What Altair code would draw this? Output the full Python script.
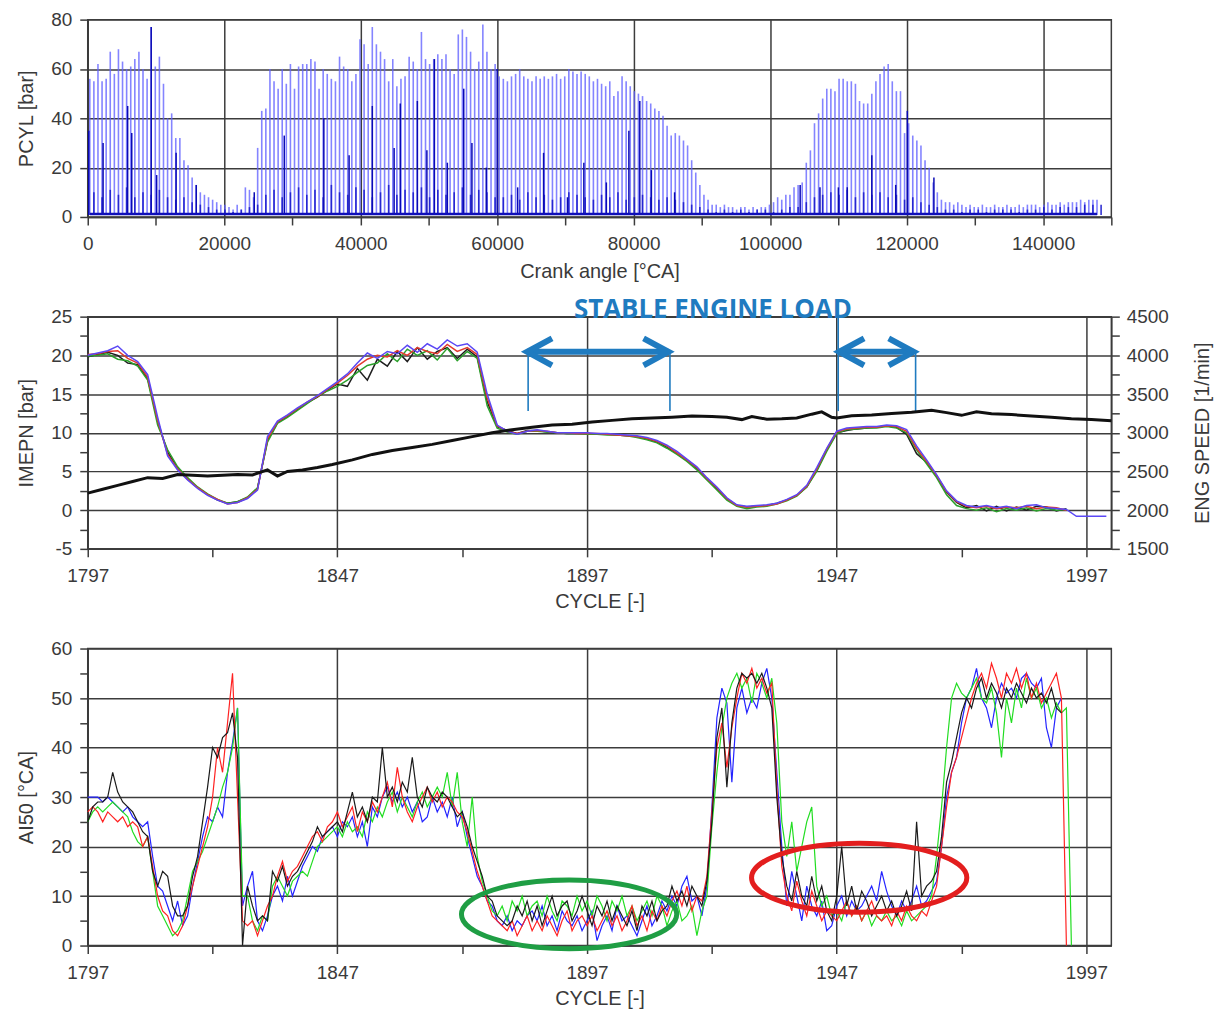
import altair as alt
import pandas as pd

FONT = "Liberation Sans"
LBL = "#3a3a3a"
GRID = "#3c3c3c"

# ---------------- top panel: cylinder pressure spikes ----------------
light_step = 600
light_peak = [
    56, 55, 62, 55, 56, 67, 58, 68, 63, 60,
    61, 64, 67, 60, 56, 77, 61, 65, 54, 40,
    42, 32, 32, 23, 21, 16, 13, 10, 9, 8,
    7, 6, 5, 5, 4, 3, 5, 3, 12, 11,
    8, 28, 43, 44, 60, 55, 52, 60, 54, 62,
    52, 61, 62, 62, 64, 63, 52, 60, 58, 56,
    55, 65, 61, 60, 55, 58, 72, 70, 62, 77,
    70, 67, 64, 55, 64, 53, 56, 57, 65, 63,
    60, 75, 64, 62, 64, 66, 64, 66, 60, 58,
    74, 76, 73, 67, 60, 63, 78, 67, 60, 62,
    57, 56, 55, 57, 58, 60, 57, 56, 55, 57,
    56, 57, 56, 57, 58, 56, 57, 60, 59, 58,
    59, 58, 57, 55, 56, 54, 53, 55, 49, 51,
    57, 55, 53, 51, 50, 49, 47, 46, 44, 43,
    41, 37, 33, 34, 33, 31, 29, 23, 18, 13,
    9, 7, 5, 5, 4, 5, 4, 4, 3, 4,
    4, 3, 4, 3, 4, 4, 5, 6, 8, 7,
    9, 9, 12, 13, 14, 22, 27, 38, 42, 48,
    52, 52, 51, 56, 56, 55, 55, 54, 47, 46,
    46, 50, 55, 58, 61, 62, 55, 51, 51, 34,
    38, 33, 31, 29, 23, 20, 14, 10, 7, 6,
    6, 5, 6, 5, 4, 5, 4, 4, 5, 4,
    4, 5, 4, 4, 5, 4, 4, 5, 4, 5,
    5, 5, 4, 5, 6, 5, 5, 6, 5, 6,
    6, 6, 7, 6, 7, 7, 7,
]
dark_angle = [150, 2250, 5850, 6450, 9300, 10100, 12950, 15900, 24400, 28800,
              34600, 38300, 41700, 44900, 45800, 48300, 49700, 50800, 52700, 55100,
              56300, 58400, 60000, 63000, 66800, 70300, 72700, 76000, 79300, 80900,
              82600, 86000, 104400, 107300, 110000, 111300, 114900, 118400, 120100, 124000]
dark_peak = [35, 30, 45, 34, 77, 17, 26, 13, 10, 33,
             40, 25, 45, 28, 46, 47, 27, 64, 22, 52,
             30, 20, 60, 12, 26, 8, 22, 14, 35, 47,
             19, 10, 13, 12, 12, 12, 25, 13, 43, 16]
minor_step = 1200
minor_peak = [
    10, 8, 11, 9, 12, 8, 10, 9, 11, 8,
    7, 8, 6, 5, 4, 3, 3, 2, 3, 4, 5,
    9, 11, 8, 10, 12, 9, 11, 8, 13, 10, 9, 12, 11, 8, 10, 13, 9, 11, 10, 12, 8, 11, 9, 10, 12, 9, 11, 10, 8,
    8, 9, 7, 10, 8, 9, 7, 8, 10, 9, 8, 7, 9, 8, 10, 7, 8, 9, 8, 7, 8, 7, 6, 5, 4,
    3, 2, 3, 2, 3, 2, 3, 3, 2, 3, 4, 4,
    6, 8, 9, 10, 9, 11, 8, 10, 9, 10, 8, 9, 7, 8, 6, 5, 4,
    3, 3, 2, 3, 3, 2, 3, 3, 3, 2, 3, 3, 4, 3, 4, 4, 4, 5, 5, 5,
]

# ---------------- middle panel: IMEPN per cylinder + engine speed ----------------
imep_step = 2
imep_blue = [
    20.0, 20.3, 20.6, 21.2, 20.0, 19.2, 17.5, 12.0, 7.0, 5.2,
    3.9, 2.8, 1.9, 1.3, 0.8, 1.0, 1.5, 2.6, 9.5, 11.5,
    12.3, 13.2, 14.0, 14.8, 15.7, 16.6, 17.6, 19.0, 20.3, 19.6,
    20.5, 20.2, 21.3, 20.4, 21.5, 20.8, 22.0, 21.2, 21.5, 20.4,
    15.0, 11.0, 10.2, 9.8, 10.2, 10.4, 10.2, 10.0, 10.0, 10.0,
    10.0, 9.9, 9.9, 9.8, 9.7, 9.6, 9.4, 9.0, 8.4, 7.6,
    6.6, 5.6, 4.2, 3.0, 1.6, 0.7, 0.5, 0.6, 0.7, 0.9,
    1.4, 2.0, 3.2, 5.5, 8.0, 10.2, 10.6, 10.7, 10.8, 10.8,
    11.0, 10.9, 10.4, 8.3, 6.5, 4.6, 2.5, 1.2, 0.6, 0.4,
    0.6, 0.3, 0.5, 0.2, 0.6, 0.7, 0.3, 0.2, 0.1, -0.8,
    -0.8, -0.8, -0.8,
]
imep_black = [
    19.8, 20.1, 20.4, 20.0, 19.0, 18.8, 17.0, 11.5, 7.5, 5.4,
    4.0, 2.9, 2.0, 1.3, 0.9, 1.1, 1.6, 2.8, 9.0, 11.3,
    12.1, 13.0, 13.9, 14.6, 15.5, 16.3, 16.0, 18.3, 16.8, 19.5,
    18.6, 20.5, 19.2, 21.0, 19.5, 20.5, 21.0, 19.6, 20.8, 19.8,
    14.0, 10.8, 10.3, 9.9, 10.3, 10.3, 10.1, 10.0, 9.9, 9.9,
    9.9, 9.8, 9.8, 9.7, 9.6, 9.5, 9.2, 8.8, 8.1, 7.3,
    6.4, 5.4, 4.0, 2.8, 1.5, 0.6, 0.4, 0.5, 0.6, 0.9,
    1.3, 1.9, 3.0, 5.2, 7.8, 10.0, 10.3, 10.5, 10.6, 10.7,
    10.9, 10.7, 9.8, 7.3, 6.2, 4.4, 2.3, 1.0, 0.3, 0.6,
    -0.1, 0.5, -0.1, 0.4, 0.0, 0.5, 0.4, -0.1, 0.2,
]
imep_green = [
    19.9, 20.0, 20.2, 19.5, 19.3, 18.6, 16.8, 11.0, 7.8, 5.6,
    4.2, 3.0, 2.1, 1.4, 0.9, 1.1, 1.7, 2.9, 8.8, 11.2,
    12.0, 12.9, 13.8, 14.7, 15.4, 16.0, 16.8, 17.8, 18.7, 19.0,
    20.2, 19.2, 20.8, 20.0, 20.6, 19.4, 20.9, 19.3, 20.5, 19.6,
    13.5, 10.6, 10.1, 9.8, 10.2, 10.2, 10.1, 10.0, 9.9, 9.9,
    9.8, 9.8, 9.7, 9.7, 9.6, 9.4, 9.1, 8.7, 8.0, 7.2,
    6.3, 5.2, 3.9, 2.6, 1.3, 0.5, 0.2, 0.4, 0.5, 0.8,
    1.2, 1.8, 3.0, 5.0, 7.6, 9.9, 10.4, 10.5, 10.6, 10.6,
    10.8, 10.6, 10.0, 7.8, 6.0, 4.2, 2.0, 0.6, 0.2, 0.0,
    0.3, -0.2, 0.2, 0.0, 0.3, -0.1, 0.2, 0.0, 0.1,
]
imep_red = [
    20.1, 20.2, 20.5, 20.6, 19.6, 19.0, 17.2, 11.6, 7.2, 5.3,
    4.0, 2.9, 2.0, 1.4, 0.8, 1.0, 1.6, 2.7, 9.2, 11.4,
    12.2, 13.1, 14.0, 14.7, 15.6, 16.4, 17.4, 18.6, 19.5, 20.0,
    19.8, 20.6, 20.0, 21.0, 20.5, 20.2, 21.4, 20.5, 21.0, 20.1,
    14.5, 10.9, 10.2, 9.9, 10.2, 10.3, 10.2, 10.0, 10.0, 9.9,
    9.9, 9.9, 9.8, 9.7, 9.6, 9.5, 9.3, 8.9, 8.3, 7.4,
    6.5, 5.5, 4.1, 2.9, 1.5, 0.6, 0.4, 0.5, 0.6, 0.8,
    1.3, 1.9, 3.1, 5.3, 7.9, 10.1, 10.5, 10.6, 10.7, 10.7,
    10.9, 10.8, 10.2, 8.0, 6.3, 4.5, 2.4, 1.1, 0.5, 0.3,
    0.5, 0.2, 0.4, 0.3, 0.5, 0.2, 0.4, 0.3, 0.0,
]
speed_cycle = [1797, 1800, 1803, 1806, 1809, 1812, 1815, 1818, 1821, 1824,
               1827, 1830, 1833, 1835, 1837, 1840, 1843, 1846, 1850, 1854,
               1858, 1862, 1866, 1870, 1874, 1878, 1882, 1886, 1890, 1894,
               1898, 1902, 1906, 1910, 1914, 1918, 1922, 1925, 1928, 1930,
               1933, 1936, 1939, 1942, 1944, 1946, 1947, 1950, 1954, 1958,
               1962, 1966, 1969, 1972, 1975, 1978, 1982, 1986, 1990, 1994,
               1998, 2002]
speed_rpm = [2220, 2270, 2320, 2370, 2420, 2410, 2460, 2450, 2440, 2450,
             2460, 2455, 2520, 2440, 2500, 2520, 2550, 2590, 2650, 2720,
             2770, 2810, 2850, 2900, 2950, 3000, 3040, 3070, 3100, 3110,
             3140, 3160, 3180, 3190, 3200, 3215, 3210, 3200, 3170, 3210,
             3175, 3180, 3190, 3240, 3270, 3200, 3190, 3220, 3230, 3250,
             3265, 3290, 3260, 3225, 3270, 3245, 3235, 3215, 3200, 3180,
             3170, 3155]

# annotations (middle panel, data units)
note_text = ["STABLE ENGINE LOAD"]
note_cycle = [1922.2]
note_imep = [25.8]
arrow_start = [1885.0, 1947.5]
arrow_end = [1913.3, 1962.4]
arrow_level = [20.45, 20.45]
bracket_cycle = [1885.2, 1913.6, 1947.3, 1962.8]
bracket_top = [20.45, 20.45, 25.0, 20.45]
bracket_bottom = [12.8, 12.8, 12.8, 12.8]

# ---------------- bottom panel: AI50 per cylinder ----------------
ai50_black = [
    25, 28, 29, 29, 30, 35, 31, 29, 28, 27,
    25, 23, 22, 15, 12, 15, 14, 8, 6, 6,
    8, 14, 18, 25, 32, 40, 38, 42, 43, 47,
    38, 0, 12, 8, 5, 6, 5, 15, 13, 16,
    12, 14, 15, 17, 19, 21, 24, 22, 23, 24,
    25, 23, 27, 31, 26, 28, 25, 30, 29, 40,
    30, 32, 29, 33, 31, 38, 30, 28, 32, 30,
    29, 31, 30, 28, 26, 27, 24, 20, 17, 14,
    10, 9, 6, 5, 4, 5, 8, 6, 9, 5,
    8, 4, 7, 10, 6, 8, 9, 5, 7, 10,
    7, 4, 8, 6, 9, 5, 8, 6, 4, 7,
    3, 8, 6, 9, 5, 7, 8, 12, 9, 11,
    8, 12, 10, 8, 13, 25, 42, 48, 32, 45,
    52, 55, 54, 55, 53, 55, 52, 48, 30, 18,
    12, 9, 15, 10, 8, 14, 9, 12, 7, 5,
    10, 20, 8, 12, 7, 11, 9, 6, 8, 10,
    7, 9, 6, 8, 11, 7, 25, 10, 12, 13,
    15, 22, 33, 37, 42, 47, 50, 48, 52, 54,
    50, 53, 51, 48, 52, 50, 53, 51, 49, 52,
    50, 51, 49, 52, 48, 47,
]
ai50_blue = [
    30, 30, 30, 29, 30, 29, 28, 27, 28, 26,
    25, 24, 25, 18, 12, 11, 8, 5, 9, 4,
    6, 12, 17, 22, 26, 25, 28, 26, 35, 41,
    48, 8, 12, 15, 5, 3, 6, 10, 12, 9,
    14, 10, 13, 16, 18, 20, 19, 22, 23, 24,
    22, 25, 24, 26, 22, 25, 20, 28, 26, 30,
    32, 29, 31, 28, 30, 27, 29, 25, 26, 30,
    27, 29, 26, 30, 24, 27, 22, 18, 14, 12,
    9, 8, 5, 4, 6, 3, 5, 4, 6, 7,
    5, 8, 4, 6, 3, 7, 5, 4, 6, 3,
    5, 7, 1, 4, 6, 3, 8, 5, 6, 4,
    2, 5, 8, 4, 6, 9, 7, 10, 8, 12,
    14, 9, 10, 6, 12, 28, 46, 52, 49, 33,
    48, 52, 47, 50, 48, 53, 56, 50, 35, 20,
    8, 15, 10, 5, 12, 8, 6, 9, 3, 4,
    8, 10, 6, 9, 7, 8, 10, 12, 9, 15,
    11, 8, 6, 9, 7, 9, 12, 8, 9, 11,
    13, 20, 30, 35, 38, 45, 50, 52, 56, 50,
    48, 44, 50, 53, 51, 52, 50, 54, 55, 53,
    52, 54, 44, 40, 48, 50,
]
ai50_red = [
    27, 28, 27, 25, 27, 26, 25, 26, 24, 25,
    24, 20, 22, 16, 10, 7, 6, 3, 2, 4,
    8, 12, 16, 20, 24, 30, 40, 35, 45, 55,
    30, 5, 4, 5, 2, 5, 8, 10, 14, 17,
    13, 15, 16, 18, 20, 22, 23, 21, 24, 25,
    27, 24, 26, 28, 23, 27, 25, 29, 27, 30,
    33, 28, 36, 30, 27, 25, 28, 30, 32, 29,
    31, 28, 30, 29, 27, 26, 23, 19, 15, 12,
    9, 6, 5, 4, 3, 5, 2, 4, 6, 3,
    5, 3, 6, 4, 2, 5, 7, 3, 5, 6,
    4, 6, 3, 5, 7, 4, 6, 3, 5, 8,
    4, 6, 3, 7, 5, 8, 6, 9, 11, 8,
    12, 7, 10, 9, 14, 27, 40, 45, 36, 44,
    50, 55, 53, 56, 52, 54, 51, 53, 32, 16,
    10, 7, 13, 9, 6, 11, 8, 5, 7, 6,
    5, 7, 9, 6, 8, 5, 7, 9, 6, 5,
    6, 4, 7, 5, 8, 6, 5, 7, 6, 9,
    12, 20, 28, 35, 38, 42, 46, 50, 53, 55,
    52, 57, 54, 50, 55, 53, 56, 52, 55, 50,
    53, 49, 51, 53, 55, 50, 0,
]
ai50_green = [
    25, 27, 28, 27, 28, 29, 28, 27, 26, 23,
    21, 20, 22, 15, 8, 6, 4, 2, 3, 5,
    10, 15, 17, 19, 22, 25, 28, 32, 35, 40,
    48, 10, 10, 5, 3, 6, 5, 12, 14, 12,
    10, 13, 14, 15, 14, 17, 20, 21, 22, 23,
    24, 22, 25, 23, 24, 22, 27, 25, 28, 26,
    29, 31, 27, 30, 28, 26, 29, 31, 28, 30,
    32, 30, 35, 28, 35, 25, 20, 30, 18, 13,
    10, 7, 6, 8, 5, 9, 7, 10, 6, 8,
    9, 6, 10, 7, 5, 9, 8, 6, 10, 7,
    9, 6, 10, 8, 5, 9, 7, 10, 6, 8,
    5, 7, 9, 6, 10, 8, 4, 7, 9, 5,
    6, 8, 2, 7, 10, 24, 35, 44, 50, 53,
    55, 52, 54, 49, 55, 53, 50, 54, 45, 25,
    18, 25, 15, 20, 25, 28, 12, 8, 10, 6,
    7, 5, 9, 6, 8, 5, 7, 4, 6, 5,
    7, 5, 6, 4, 7, 5, 6, 7, 8, 10,
    18, 28, 40, 50, 53, 51, 50, 52, 54, 50,
    49, 52, 47, 38, 50, 45, 52, 48, 54, 50,
    52, 48, 50, 46, 49, 47, 48, 0,
]
ring_name = ["green", "red"]
ring_cycle = [1893.4, 1951.5]
ring_ai50 = [6.3, 13.7]

# ---------------- helpers ----------------
W = 1027
H_TOP, H_MID, H_BOT = 198, 233, 298


def cond(test, a, b):
    return {"condition": {"test": test, "value": a}, "value": b}


xs_top = alt.Scale(domain=[0, 150000], nice=False, zero=False)
ys_top = alt.Scale(domain=[0, 80], nice=False, zero=False)
ax_x_top = alt.Axis(values=list(range(0, 150001, 10000)),
                    labelExpr="datum.value % 20000 === 0 ? '' + datum.value : ''",
                    gridOpacity=cond("datum.value % 20000 === 0", 1, 0),
                    title="Crank angle [°CA]", labelPadding=10, titlePadding=8)
ax_y_top = alt.Axis(values=list(range(0, 81, 5)),
                    labelExpr="datum.value % 10 === 0 ? '' + datum.value : ''",
                    gridOpacity=cond("datum.value % 10 === 0", 1, 0),
                    title="PCYL [bar]", labelPadding=8, titlePadding=14)

xs_cyc = alt.Scale(domain=[1797, 2002], nice=False, zero=False)
ax_cyc = alt.Axis(values=list(range(1797, 2002, 25)),
                  labelExpr="(datum.value - 1797) % 50 === 0 ? '' + datum.value : ''",
                  gridOpacity=cond("(datum.value - 1797) % 50 === 0", 1, 0),
                  title="CYCLE [-]", labelPadding=10, titlePadding=6)
ys_imep = alt.Scale(domain=[-5, 25], nice=False, zero=False)
ax_imep = alt.Axis(values=[-5 + 2.5 * i for i in range(13)],
                   labelExpr="datum.value % 5 === 0 ? '' + datum.value : ''",
                   gridOpacity=cond("datum.value % 5 === 0", 1, 0),
                   title="IMEPN [bar]", labelPadding=8, titlePadding=14)
ys_speed = alt.Scale(domain=[1500, 4500], nice=False, zero=False)
ax_speed = alt.Axis(orient="right", values=list(range(1500, 4501, 250)),
                    labelExpr="datum.value % 500 === 0 ? '' + datum.value : ''",
                    grid=False, title="ENG SPEED [1/min]", titleAngle=270,
                    titleBaseline="top", labelPadding=7, titlePadding=24)
ys_ai = alt.Scale(domain=[0, 60], nice=False, zero=False)
ax_ai = alt.Axis(values=list(range(0, 61, 5)),
                 labelExpr="datum.value % 10 === 0 ? '' + datum.value : ''",
                 gridOpacity=cond("datum.value % 10 === 0", 1, 0),
                 title="AI50 [°CA]", labelPadding=8, titlePadding=14)

# ---------------- top chart ----------------
df_light = pd.DataFrame({"angle": [300 + light_step * i for i in range(len(light_peak))],
                         "p": light_peak})
df_dark = pd.DataFrame({"angle": dark_angle, "p": dark_peak})
df_minor = pd.DataFrame({"angle": [900 + minor_step * i for i in range(len(minor_peak))],
                         "p": minor_peak})


def spikes(df, color, width, opacity):
    return alt.Chart(df).mark_rule(color=color, strokeWidth=width, opacity=opacity).encode(
        x=alt.X("angle:Q", scale=xs_top, axis=ax_x_top),
        y=alt.Y("p:Q", scale=ys_top, axis=ax_y_top),
        y2=alt.datum(0.8),
    )


baseline = alt.Chart(df_light).mark_rule(color="#1010b8", strokeWidth=2.5).encode(
    x=alt.X("min(angle):Q", scale=xs_top, axis=ax_x_top),
    x2="max(angle):Q",
    y=alt.datum(1.2),
)

top = alt.layer(
    spikes(df_light, "#6262ff", 1.6, 0.78),
    spikes(df_minor, "#1c1ccc", 1.6, 0.9),
    spikes(df_dark, "#0a0ab4", 1.5, 1.0),
    baseline,
).properties(width=W, height=H_TOP)

# ---------------- middle chart ----------------
imep_rows = []
for name, vals in [("black", imep_black), ("green", imep_green), ("red", imep_red), ("blue", imep_blue)]:
    for i, v in enumerate(vals):
        imep_rows.append({"cycle": 1797 + imep_step * i, "imep": v, "cyl": name})
df_imep = pd.DataFrame(imep_rows)
imep_colors = {"black": "#1e1e1e", "green": "#2ca02c", "red": "#e23b2e", "blue": "#5b48f5"}

imep_layers = []
for name in ["black", "green", "red", "blue"]:
    imep_layers.append(
        alt.Chart(df_imep[df_imep.cyl == name]).mark_line(color=imep_colors[name], strokeWidth=1.5).encode(
            x=alt.X("cycle:Q", scale=xs_cyc, axis=ax_cyc),
            y=alt.Y("imep:Q", scale=ys_imep, axis=ax_imep),
        )
    )

ARROW = "#1f7bc0"
df_note = pd.DataFrame({"cycle": note_cycle, "imep": note_imep, "txt": note_text})
note = alt.Chart(df_note).mark_text(font="Open Sans", fontWeight="bold", fontSize=26,
                                    color=ARROW, baseline="middle").encode(
    x=alt.X("cycle:Q", scale=xs_cyc, axis=ax_cyc),
    y=alt.Y("imep:Q", scale=ys_imep, axis=ax_imep),
    text="txt:N",
)
df_arrow = pd.DataFrame({"c0": arrow_start, "c1": arrow_end, "lvl": arrow_level})
shaft = alt.Chart(df_arrow).mark_rule(color=ARROW, strokeWidth=6).encode(
    x=alt.X("c0:Q", scale=xs_cyc, axis=ax_cyc), x2="c1:Q",
    y=alt.Y("lvl:Q", scale=ys_imep, axis=ax_imep),
)
LEFT_CHEV = "M 1.85 -1 L 0 0 L 1.85 1"
RIGHT_CHEV = "M -1.85 -1 L 0 0 L -1.85 1"
head_l = alt.Chart(df_arrow).mark_point(shape=LEFT_CHEV, size=729, filled=False, strokeWidth=6,
                                        color=ARROW, opacity=1).encode(
    x=alt.X("c0:Q", scale=xs_cyc, axis=ax_cyc),
    y=alt.Y("lvl:Q", scale=ys_imep, axis=ax_imep),
)
head_r = alt.Chart(df_arrow).mark_point(shape=RIGHT_CHEV, size=729, filled=False, strokeWidth=6,
                                        color=ARROW, opacity=1).encode(
    x=alt.X("c1:Q", scale=xs_cyc, axis=ax_cyc),
    y=alt.Y("lvl:Q", scale=ys_imep, axis=ax_imep),
)
df_br = pd.DataFrame({"cycle": bracket_cycle, "top": bracket_top, "bot": bracket_bottom})
brackets = alt.Chart(df_br).mark_rule(color=ARROW, strokeWidth=1.6).encode(
    x=alt.X("cycle:Q", scale=xs_cyc, axis=ax_cyc),
    y=alt.Y("top:Q", scale=ys_imep, axis=ax_imep), y2="bot:Q",
)

df_speed = pd.DataFrame({"cycle": speed_cycle, "rpm": speed_rpm})
speed = alt.Chart(df_speed).mark_line(color="#111111", strokeWidth=3).encode(
    x=alt.X("cycle:Q", scale=xs_cyc, axis=ax_cyc),
    y=alt.Y("rpm:Q", scale=ys_speed, axis=ax_speed),
)

left_part = alt.layer(*imep_layers, brackets, shaft, head_l, head_r, note)
middle = alt.layer(left_part, speed).resolve_scale(y="independent").properties(width=W, height=H_MID)

# ---------------- bottom chart ----------------
ai_rows = []
for name, vals in [("blue", ai50_blue), ("green", ai50_green), ("red", ai50_red), ("black", ai50_black)]:
    for i, v in enumerate(vals):
        ai_rows.append({"cycle": 1797 + i, "ai50": v, "cyl": name})
df_ai = pd.DataFrame(ai_rows)
ai_colors = {"black": "#1a1a1a", "green": "#22dd22", "red": "#ff2222", "blue": "#2424ff"}
ai_layers = []
for name in ["blue", "green", "red", "black"]:
    ai_layers.append(
        alt.Chart(df_ai[df_ai.cyl == name]).mark_line(color=ai_colors[name], strokeWidth=1.2).encode(
            x=alt.X("cycle:Q", scale=xs_cyc, axis=ax_cyc),
            y=alt.Y("ai50:Q", scale=ys_ai, axis=ax_ai),
        )
    )

ELLIPSE = ("M -1 0 C -1 -0.177 -0.552 -0.32 0 -0.32 C 0.552 -0.32 1 -0.177 1 0 "
           "C 1 0.177 0.552 0.32 0 0.32 C -0.552 0.32 -1 0.177 -1 0 Z")
df_ring = pd.DataFrame({"cycle": ring_cycle, "ai50": ring_ai50, "ring": ring_name})
rings = []
for name, col in [("green", "#1f9e44"), ("red", "#e31e1e")]:
    rings.append(
        alt.Chart(df_ring[df_ring.ring == name]).mark_point(shape=ELLIPSE, size=46656, filled=False,
                                                            strokeWidth=5, color=col, opacity=1).encode(
            x=alt.X("cycle:Q", scale=xs_cyc, axis=ax_cyc),
            y=alt.Y("ai50:Q", scale=ys_ai, axis=ax_ai),
        )
    )

bottom = alt.layer(*ai_layers, *rings).properties(width=W, height=H_BOT)

chart = alt.vconcat(top, middle, bottom, spacing=100, bounds="flush").configure(
    padding={"left": 8, "top": 0, "right": 0, "bottom": 0},
).configure_axis(
    labelFont=FONT, titleFont=FONT, labelFontSize=19, titleFontSize=20,
    labelColor=LBL, titleColor=LBL, titleFontWeight="normal",
    tickColor=GRID, domainColor=GRID, gridColor=GRID, gridWidth=1.5,
    tickWidth=1.5, domainWidth=1.5, tickSize=8, labelOverlap=False, labelFlush=False,
).configure_view(stroke=GRID, strokeWidth=1.5)

chart.save("out.html", embed_options={"renderer": "svg", "actions": False})
